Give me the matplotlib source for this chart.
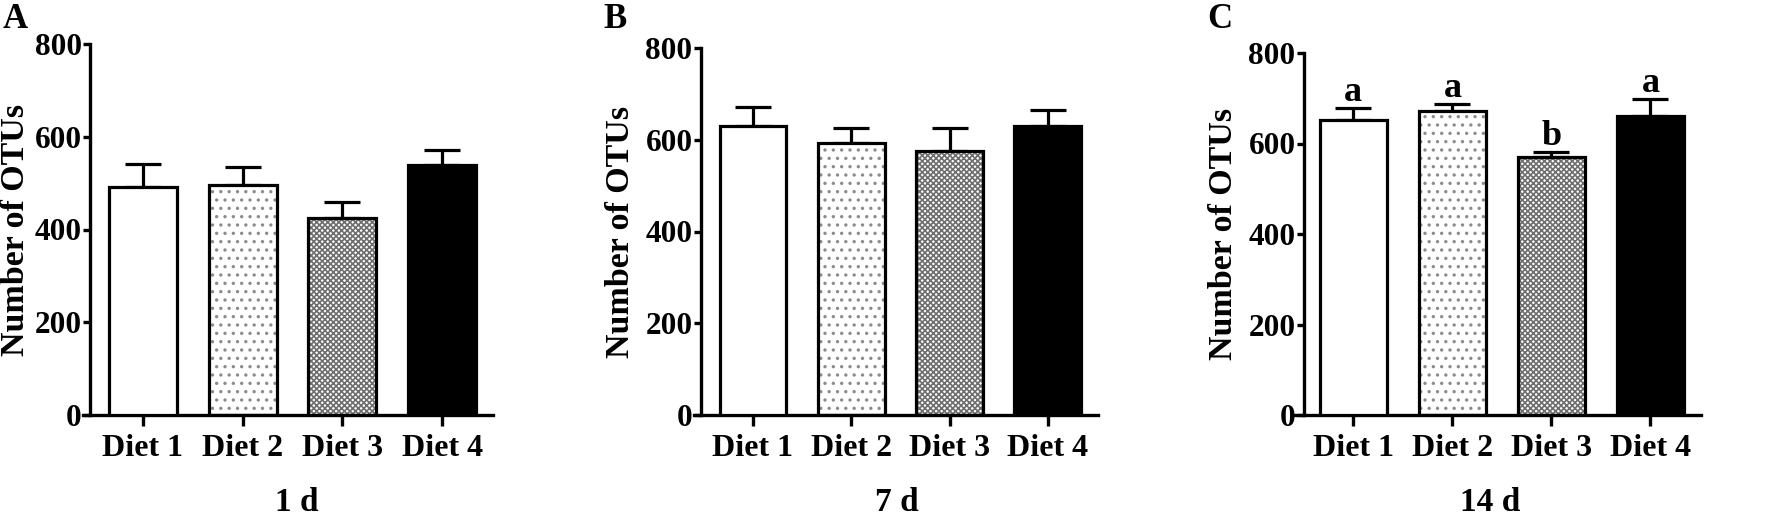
import numpy as np
import matplotlib
matplotlib.use('Agg')
import matplotlib.pyplot as plt

plt.rcParams['font.family'] = ['Liberation Serif', 'DejaVu Serif']
plt.rcParams['font.weight'] = 'bold'
plt.rcParams['hatch.linewidth'] = 1.2

diets = ['Diet 1', 'Diet 2', 'Diet 3', 'Diet 4']

# mean number of OTUs and upper error
day1_mean = [491, 497, 424, 539]
day1_err = [50, 38, 35, 32]
day7_mean = [630, 593, 575, 630]
day7_err = [41, 33, 51, 34]
day14_mean = [652, 672, 571, 661]
day14_err = [27, 15, 10, 37]
day14_letters = ['a', 'a', 'b', 'a']

panel_tags = ['A', 'B', 'C']
day_titles = ['1 d', '7 d', '14 d']

W, H = 1772, 519
fig = plt.figure(figsize=(W / 100, H / 100), dpi=100)

# axes boxes in pixels: left, right, top of y-axis (800), bottom (0)
boxes = [(83, 493, 44, 415), (694, 1098, 48, 415), (1294, 1701, 53, 415)]
spine_x = [-0.53, -0.53, -0.5]
tag_x = [3, 603, 1207]
ylab_x = [31, 636, 1239]
xlab_cx = [297, 897, 1490]

faces = ['white', 'white', 'white', 'black']
hatches = [None, '..', 'xxxxxx', None]
hatch_cols = [None, '#8c8c8c', '#6e6e6e', None]


def draw_panel(ax, means, errs, letters=None):
    x = np.arange(len(diets))
    for i in range(len(diets)):
        if hatches[i]:
            ax.bar(x[i], means[i], width=0.68, color='white', hatch=hatches[i],
                   edgecolor=hatch_cols[i], linewidth=0, zorder=2)
        ax.bar(x[i], means[i], width=0.68, color=faces[i] if not hatches[i] else 'none',
               edgecolor='black', linewidth=2.3, zorder=3)
    ax.errorbar(x, means, yerr=[np.zeros(len(errs)), errs], fmt='none',
                ecolor='black', elinewidth=2.3, capsize=13, capthick=2.3, zorder=1)
    if letters:
        for i, l in enumerate(letters):
            ax.text(x[i], means[i] + errs[i] + 16, l, ha='center', va='baseline',
                    fontsize=26, fontweight='bold')
    ax.set_ylim(0, 800)
    ax.set_yticks([0, 200, 400, 600, 800])
    ax.set_xticks(x)
    ax.set_xticklabels(diets)
    ax.spines['top'].set_visible(False)
    ax.spines['right'].set_visible(False)
    ax.spines['left'].set_linewidth(2.4)
    ax.spines['bottom'].set_linewidth(2.4)
    ax.tick_params(axis='y', length=5, width=2.4, pad=1, labelsize=22.5)
    ax.tick_params(axis='x', length=8, width=2.4, pad=6, labelsize=23)
    for t in ax.get_xticklabels() + ax.get_yticklabels():
        t.set_fontweight('bold')


all_means = [day1_mean, day7_mean, day14_mean]
all_errs = [day1_err, day7_err, day14_err]

for k in range(3):
    l, r, t, b = boxes[k]
    ax = fig.add_axes([l / W, (H - b) / H, (r - l) / W, (b - t) / H])
    draw_panel(ax, all_means[k], all_errs[k], day14_letters if k == 2 else None)
    ax.set_xlim(-0.6, 3.51)
    ax.spines['left'].set_position(('data', spine_x[k]))
    ax.set_ylabel('Number of OTUs', fontsize=24.5, fontweight='bold')
    ax.yaxis.set_label_coords((ylab_x[k] - l) / (r - l), 0.5)
    ax.set_xlabel(day_titles[k], fontsize=24, fontweight='bold')
    ax.xaxis.set_label_coords((xlab_cx[k] - l) / (r - l), (b - 487) / (b - t))
    fig.text(tag_x[k] / W, 1 - 3 / H, panel_tags[k], fontsize=25, fontweight='bold',
             ha='left', va='top')

fig.savefig('out.png', dpi=100)
